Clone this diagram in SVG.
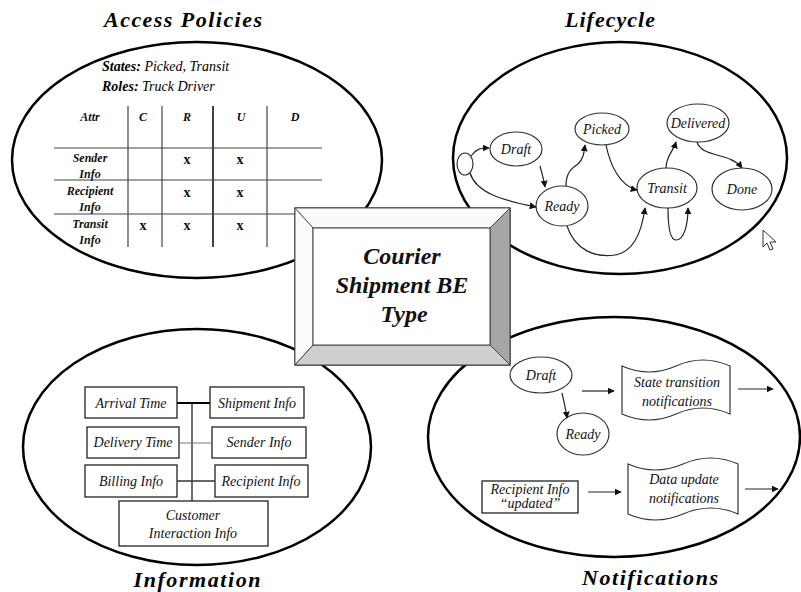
<svg xmlns="http://www.w3.org/2000/svg" width="801" height="592" viewBox="0 0 801 592">
<style>
.big{fill:none;stroke:#000;stroke-width:2.5}
.title{font-family:"Liberation Serif",serif;font-weight:bold;font-style:italic;font-size:22px;fill:#000}
.it{font-family:"Liberation Serif",serif;font-style:italic;font-size:14px;fill:#111}
.bi{font-family:"Liberation Serif",serif;font-weight:bold;font-style:italic;fill:#111}
.xm{font-family:"Liberation Serif",serif;font-weight:bold;font-size:14px;fill:#111}
.node{fill:#fff;stroke:#333;stroke-width:1.2}
.box{fill:#fff;stroke:#222;stroke-width:1.3}
.grid{stroke:#444;stroke-width:1.2}
.conn{fill:none;stroke:#222;stroke-width:1.2}
</style>
<defs>
<marker id="ah" viewBox="0 0 10 10" refX="9" refY="5" markerWidth="7" markerHeight="7" markerUnits="userSpaceOnUse" orient="auto">
<path d="M0,0 L10,5 L0,10 Z" fill="#111"/>
</marker>
</defs>
<rect width="801" height="592" fill="#fff"/>

<!-- Access Policies -->
<g id="access-policies">
<ellipse class="big" cx="197" cy="160" rx="185" ry="118"/>
<text class="title" x="183" y="27" text-anchor="middle" textLength="158" lengthAdjust="spacing">Access Policies</text>
<text x="102" y="71" font-family="Liberation Serif,serif" font-size="14"><tspan font-weight="bold" font-style="italic">States:</tspan><tspan font-style="italic"> Picked, Transit</tspan></text>
<text x="102" y="91" font-family="Liberation Serif,serif" font-size="14"><tspan font-weight="bold" font-style="italic">Roles:</tspan><tspan font-style="italic"> Truck Driver</tspan></text>
<g class="grid">
<line x1="128" y1="106" x2="128" y2="247"/>
<line x1="162" y1="106" x2="162" y2="247"/>
<line x1="213" y1="106" x2="213" y2="247" stroke-width="2"/>
<line x1="267" y1="106" x2="267" y2="247"/>
<line x1="54" y1="148" x2="322" y2="148"/>
<line x1="54" y1="180" x2="322" y2="180"/>
<line x1="54" y1="214" x2="322" y2="214"/>
</g>
<g class="bi" font-size="12" text-anchor="middle">
<text x="90" y="121">Attr</text>
<text x="143" y="121">C</text>
<text x="187" y="121">R</text>
<text x="241" y="121">U</text>
<text x="295" y="121">D</text>
<text x="90" y="162">Sender</text>
<text x="90" y="178">Info</text>
<text x="90" y="195">Recipient</text>
<text x="90" y="211">Info</text>
<text x="90" y="228">Transit</text>
<text x="90" y="244">Info</text>
</g>
<g class="xm" text-anchor="middle">
<text x="187" y="164">x</text>
<text x="240" y="164">x</text>
<text x="187" y="197">x</text>
<text x="240" y="197">x</text>
<text x="143" y="230">x</text>
<text x="187" y="230">x</text>
<text x="240" y="230">x</text>
</g>
</g>

<!-- Lifecycle -->
<g id="lifecycle">
<ellipse class="big" cx="620" cy="158" rx="167" ry="116"/>
<text class="title" x="610" y="27" text-anchor="middle" textLength="90" lengthAdjust="spacing">Lifecycle</text>
</g>
<g id="lc-init"><ellipse class="node" cx="465" cy="164" rx="8" ry="11"/></g>
<g id="lc-draft"><ellipse class="node" cx="516" cy="149" rx="26" ry="17"/><text class="it" x="516" y="154" text-anchor="middle">Draft</text></g>
<g id="lc-ready"><ellipse class="node" cx="562" cy="206" rx="26" ry="20"/><text class="it" x="562" y="211" text-anchor="middle">Ready</text></g>
<g id="lc-picked"><ellipse class="node" cx="602" cy="129" rx="27" ry="16"/><text class="it" x="602" y="134" text-anchor="middle" font-size="13">Picked</text></g>
<g id="lc-delivered"><ellipse class="node" cx="698" cy="123" rx="31" ry="19"/><text class="it" x="698" y="128" text-anchor="middle" font-size="13">Delivered</text></g>
<g id="lc-transit"><ellipse class="node" cx="667" cy="188" rx="30" ry="20"/><text class="it" x="667" y="193" text-anchor="middle">Transit</text></g>
<g id="lc-done"><ellipse class="node" cx="742" cy="189" rx="30" ry="21"/><text class="it" x="742" y="194" text-anchor="middle">Done</text></g>
<g id="cursor"><polygon points="763,230 763,247 767,243 770,250 773,249 770,242 776,242" fill="#fff" stroke="#333" stroke-width="1"/></g>

<!-- Information -->
<g id="information">
<ellipse class="big" cx="197" cy="447" rx="174" ry="118"/>
<text class="title" x="197" y="587" text-anchor="middle" textLength="127" lengthAdjust="spacing">Information</text>
</g>
<g id="info-arrival"><rect class="box" x="85" y="387" width="92" height="31"/><text class="it" x="131" y="408" text-anchor="middle" font-size="15">Arrival Time</text></g>
<g id="info-shipment"><rect class="box" x="210" y="387" width="94" height="31"/><text class="it" x="257" y="408" text-anchor="middle" font-size="15">Shipment Info</text></g>
<g id="info-delivery"><rect class="box" x="87" y="427" width="92" height="31" stroke="#666"/><text class="it" x="133" y="447" text-anchor="middle" font-size="15">Delivery Time</text></g>
<g id="info-sender"><rect class="box" x="212" y="427" width="94" height="31"/><text class="it" x="259" y="447" text-anchor="middle" font-size="15">Sender Info</text></g>
<g id="info-billing"><rect class="box" x="85" y="465" width="92" height="32"/><text class="it" x="131" y="486" text-anchor="middle" font-size="15">Billing Info</text></g>
<g id="info-recipient"><rect class="box" x="215" y="465" width="93" height="32" stroke="#666"/><text class="it" x="261" y="486" text-anchor="middle" font-size="15">Recipient Info</text></g>
<g id="info-customer"><rect class="box" x="119" y="501" width="149" height="45"/><text class="it" x="193" y="520" text-anchor="middle" font-size="15">Customer</text><text class="it" x="193" y="538" text-anchor="middle" font-size="15">Interaction Info</text></g>

<!-- Notifications -->
<g id="notifications">
<ellipse class="big" cx="614" cy="437" rx="186" ry="120"/>
<text class="title" x="650" y="585" text-anchor="middle" textLength="136" lengthAdjust="spacing">Notifications</text>
</g>
<g id="nt-draft"><ellipse class="node" cx="541" cy="375" rx="31" ry="18"/><text class="it" x="541" y="380" text-anchor="middle" font-size="15">Draft</text></g>
<g id="nt-ready"><ellipse class="node" cx="583" cy="434" rx="26" ry="21"/><text class="it" x="583" y="439" text-anchor="middle" font-size="15">Ready</text></g>
<g id="nt-state"><path class="node" d="M622,366 Q649,378 676,366 Q703,354 730,366 L730,414 Q703,402 676,414 Q649,426 622,414 Z"/><text class="it" x="677" y="387" text-anchor="middle" font-size="12">State transition</text><text class="it" x="677" y="406" text-anchor="middle" font-size="12">notifications</text></g>
<g id="nt-recipient"><rect class="box" x="482" y="481" width="96" height="32"/><text class="it" x="530" y="494" text-anchor="middle" font-size="10">Recipient Info</text><text class="it" x="530" y="508" text-anchor="middle" font-size="10">“updated”</text></g>
<g id="nt-data"><path class="node" d="M628,464 Q655,476 683,464 Q711,452 738,464 L738,514 Q711,502 683,514 Q655,526 628,514 Z"/><text class="it" x="684" y="484" text-anchor="middle" font-size="13">Data update</text><text class="it" x="684" y="503" text-anchor="middle" font-size="13">notifications</text></g>

<!-- Connectors -->
<g id="connectors">
<path class="conn" marker-end="url(#ah)" d="M471,156 C476,149 480,148 489,148"/>
<path class="conn" marker-end="url(#ah)" d="M470,173 C476,192 500,200 536,207"/>
<path class="conn" marker-end="url(#ah)" d="M540,166 C542,174 544,180 545,187"/>
<path class="conn" marker-end="url(#ah)" d="M566,186 C566,172 572,168 578,164 C584,158 584,152 585,145"/>
<path class="conn" marker-end="url(#ah)" d="M606,145 C610,165 620,186 637,190"/>
<path class="conn" marker-end="url(#ah)" d="M567,226 C575,250 595,258 615,255 C635,252 642,230 645,208"/>
<path class="conn" marker-end="url(#ah)" d="M668,208 C668,225 670,240 676,240 C684,240 688,225 688,208"/>
<path class="conn" marker-end="url(#ah)" d="M666,168 C666,156 673,152 676,142"/>
<path class="conn" marker-end="url(#ah)" d="M697,142 C702,158 730,152 742,168"/>
<line x1="192" y1="403" x2="192" y2="501" stroke="#222" stroke-width="1.3"/>
<line x1="177" y1="403" x2="210" y2="403" stroke="#000" stroke-width="1.8"/>
<line x1="179" y1="443" x2="212" y2="443" stroke="#777" stroke-width="1"/>
<line x1="177" y1="481" x2="215" y2="481" stroke="#333" stroke-width="1.3"/>
<path class="conn" marker-end="url(#ah)" d="M562,393 C564,402 566,410 567,418"/>
<path class="conn" marker-end="url(#ah)" d="M582,391 L614,391"/>
<path class="conn" marker-end="url(#ah)" d="M738,389 L773,389"/>
<path class="conn" marker-end="url(#ah)" d="M588,492 L621,492"/>
<path class="conn" marker-end="url(#ah)" d="M745,489 L778,489"/>
</g>

<!-- Center box -->
<g id="center">
<rect x="295" y="208" width="215" height="157" fill="#fff" stroke="#222" stroke-width="1.3"/>
<polygon points="295,208 510,208 490,228 313,228" fill="#fafafa" stroke="#555" stroke-width="1"/>
<polygon points="295,208 313,228 313,345 295,365" fill="#fcfcfc" stroke="#555" stroke-width="1"/>
<polygon points="510,208 510,365 490,345 490,228" fill="#a6a6a6" stroke="#444" stroke-width="1"/>
<polygon points="295,365 313,345 490,345 510,365" fill="#cfcfcf" stroke="#444" stroke-width="1"/>
<rect x="313" y="228" width="177" height="117" fill="#fff" stroke="#444" stroke-width="1"/>
<g class="bi" font-size="24" text-anchor="middle" fill="#000">
<text x="402" y="264">Courier</text>
<text x="402" y="293">Shipment BE</text>
<text x="404" y="322">Type</text>
</g>
</g>
</svg>
